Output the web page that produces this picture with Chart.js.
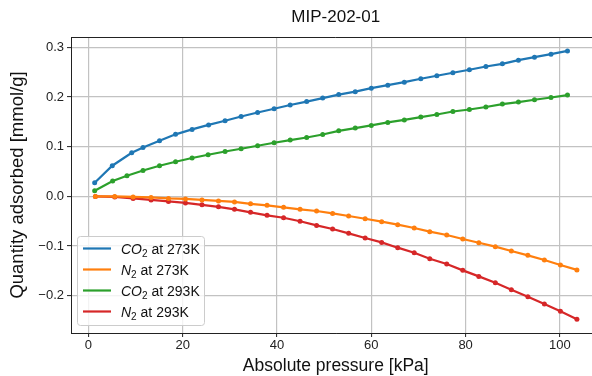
<!DOCTYPE html>
<html>
<head>
<title>MIP-202-01</title>
<script src="https://cdn.jsdelivr.net/npm/chart.js"></script>
<style>
  html, body { margin: 0; padding: 0; background: #fff; overflow: hidden; }
  #wrap { width: 603px; height: 376px; }
</style>
</head>
<body>
<div id="wrap"><canvas id="isoChart" width="603" height="376"></canvas></div>
<script>
// pressure points [kPa]
const co2Pressure273 = [1.35, 5.08, 9.2, 11.6, 15.1, 18.5, 22.0, 25.5, 29.0, 32.4, 35.9, 39.4, 42.8, 46.3, 49.7,
    53.1, 56.6, 60.0, 63.5, 67.0, 70.5, 73.9, 77.3, 80.8, 84.3, 87.8, 91.2, 94.6, 98.1, 101.6];
const co2Pressure293 = [1.35, 5.16, 8.2, 11.6, 15.1, 18.5, 22.0, 25.4, 29.0, 32.4, 35.9, 39.4, 42.8, 46.3, 49.7,
    53.1, 56.6, 60.0, 63.5, 67.0, 70.5, 73.9, 77.3, 80.8, 84.3, 87.8, 91.2, 94.6, 98.1, 101.6];
const n2Pressure = [1.5, 5.6, 9.5, 13.3, 17.0, 20.6, 24.1, 27.6, 31.0, 34.4, 37.9, 41.4, 44.9, 48.4, 51.8,
    55.2, 58.7, 62.2, 65.6, 69.1, 72.4, 76.0, 79.4, 82.8, 86.3, 89.7, 93.2, 96.7, 100.1, 103.6];

// quantity adsorbed [mmol/g]
const co2At273 = [0.0276, 0.0618, 0.0879, 0.0986, 0.112, 0.125, 0.135, 0.144, 0.1523, 0.161, 0.169, 0.1765, 0.184, 0.191, 0.198,
    0.205, 0.211, 0.218, 0.224, 0.230, 0.237, 0.243, 0.249, 0.255, 0.2616, 0.267, 0.2744, 0.2804, 0.2865, 0.293];
const n2At273 = [0.000, 0.000, -0.001, -0.002, -0.004, -0.005, -0.007, -0.009, -0.011, -0.015, -0.018, -0.022, -0.026, -0.0294, -0.0342,
    -0.0394, -0.0449, -0.0509, -0.0569, -0.0636, -0.071, -0.0777, -0.0857, -0.0932, -0.1012, -0.1099, -0.1187, -0.128, -0.138, -0.148];
const co2At293 = [0.0115, 0.031, 0.0417, 0.0523, 0.0618, 0.0698, 0.0773, 0.0839, 0.0905, 0.096, 0.102, 0.108, 0.1135, 0.1187, 0.1247,
    0.132, 0.1376, 0.143, 0.149, 0.154, 0.1597, 0.165, 0.171, 0.175, 0.180, 0.186, 0.190, 0.1946, 0.1992, 0.204];
const n2At293 = [0.000, -0.001, -0.004, -0.007, -0.010, -0.013, -0.017, -0.021, -0.026, -0.032, -0.038, -0.043, -0.050, -0.0584, -0.0656,
    -0.0744, -0.0837, -0.0926, -0.1032, -0.1133, -0.1254, -0.136, -0.1489, -0.161, -0.174, -0.1877, -0.2018, -0.2165, -0.2314, -0.2475];

const seriesLabels = ['CO₂ at 273K', 'N₂ at 273K', 'CO₂ at 293K', 'N₂ at 293K'];
const xTicks = [0, 20, 40, 60, 80, 100];
const yTicks = [-0.2, -0.1, 0.0, 0.1, 0.2, 0.3];

const FONT = "'Liberation Sans', Arial, sans-serif";

function pts(xs, ys) {
    return xs.map((x, i) => ({ x: x, y: ys[i] }));
}

function series(label, xs, ys, color) {
    return {
        label: label,
        data: pts(xs, ys),
        borderColor: color,
        backgroundColor: color,
        borderWidth: 2.2,
        pointRadius: 2.5,
        pointBorderWidth: 0,
        pointHoverRadius: 2.5,
        tension: 0
    };
}

// top spine (matplotlib box)
const topSpine = {
    id: 'topSpine',
    afterDraw(chart) {
        const a = chart.chartArea, ctx = chart.ctx;
        ctx.save();
        ctx.strokeStyle = '#222';
        ctx.lineWidth = 1;
        ctx.beginPath();
        ctx.moveTo(a.left, a.top + 0.5);
        ctx.lineTo(a.right, a.top + 0.5);
        ctx.stroke();
        ctx.restore();
    }
};

// legend with math-style subscripts
const subLegend = {
    id: 'subLegend',
    afterDraw(chart) {
        const ctx = chart.ctx, a = chart.chartArea;
        const x0 = a.left + 6.5, y0 = a.bottom - 96.5, w = 127, h = 89;
        ctx.save();
        ctx.beginPath();
        ctx.roundRect(x0, y0, w, h, 3);
        ctx.fillStyle = 'rgba(255,255,255,0.8)';
        ctx.fill();
        ctx.strokeStyle = '#cccccc';
        ctx.lineWidth = 1;
        ctx.stroke();
        chart.data.datasets.forEach((ds, i) => {
            const cy = y0 + 12 + i * 21;
            ctx.strokeStyle = ds.borderColor;
            ctx.lineWidth = 2.2;
            ctx.beginPath();
            ctx.moveTo(x0 + 5.5, cy);
            ctx.lineTo(x0 + 33.5, cy);
            ctx.stroke();
            const parts = ds.label.split('₂');
            const base = cy + 5;
            let tx = x0 + 43.5;
            ctx.fillStyle = '#111';
            ctx.textBaseline = 'alphabetic';
            ctx.font = 'italic 14px ' + FONT;
            ctx.fillText(parts[0], tx, base);
            tx += ctx.measureText(parts[0]).width;
            ctx.font = '10px ' + FONT;
            ctx.fillText('2', tx, base + 3.5);
            tx += ctx.measureText('2').width;
            ctx.font = '14px ' + FONT;
            ctx.fillText(parts[1], tx, base);
        });
        ctx.restore();
    }
};

const ctx = document.getElementById('isoChart').getContext('2d');
new Chart(ctx, {
    type: 'line',
    data: {
        datasets: [
            series(seriesLabels[0], co2Pressure273, co2At273, '#1f77b4'),
            series(seriesLabels[1], n2Pressure, n2At273, '#ff7f0e'),
            series(seriesLabels[2], co2Pressure293, co2At293, '#2ca02c'),
            series(seriesLabels[3], n2Pressure, n2At293, '#d62728')
        ]
    },
    options: {
        responsive: false,
        animation: false,
        devicePixelRatio: 1,
        layout: { padding: { left: 0, right: 2, top: 0, bottom: 0 } },
        plugins: {
            legend: { display: false },
            tooltip: { enabled: false },
            title: {
                display: true,
                fullSize: false,
                text: 'MIP-202-01',
                color: '#111',
                font: { family: FONT, size: 17, weight: 'normal' },
                padding: { top: 7, bottom: 9.6 }
            }
        },
        scales: {
            x: {
                type: 'linear',
                min: -3.67,
                max: 108.6,
                afterBuildTicks: s => { s.ticks = xTicks.map(v => ({ value: v })); },
                afterFit: s => { s.height = 43; },
                grid: { color: '#c2c2c2', lineWidth: 1.2, tickLength: 4, tickColor: '#222', tickWidth: 1 },
                border: { display: true, color: '#222', width: 1 },
                ticks: {
                    color: '#222',
                    padding: 1,
                    maxRotation: 0,
                    font: { family: FONT, size: 13 },
                    callback: v => String(v)
                },
                title: {
                    display: true,
                    text: 'Absolute pressure [kPa]',
                    color: '#111',
                    font: { family: FONT, size: 17.5 },
                    padding: { top: 0, bottom: -1 }
                }
            },
            y: {
                type: 'linear',
                min: -0.275,
                max: 0.321,
                afterBuildTicks: s => { s.ticks = yTicks.map(v => ({ value: v })); },
                afterFit: s => { s.width = 71; },
                grid: { color: '#c2c2c2', lineWidth: 1.2, tickLength: 4, tickColor: '#222', tickWidth: 1 },
                border: { display: true, color: '#222', width: 1 },
                ticks: {
                    color: '#222',
                    padding: 3,
                    font: { family: FONT, size: 13 },
                    callback: v => v.toFixed(1).replace('-', '\u2212')
                },
                title: {
                    display: true,
                    text: 'Quantity adsorbed [mmol/g]',
                    color: '#111',
                    font: { family: FONT, size: 18.5 },
                    padding: { top: 7, bottom: 0 }
                }
            }
        }
    },
    plugins: [topSpine, subLegend]
});
</script>
</body>
</html>
